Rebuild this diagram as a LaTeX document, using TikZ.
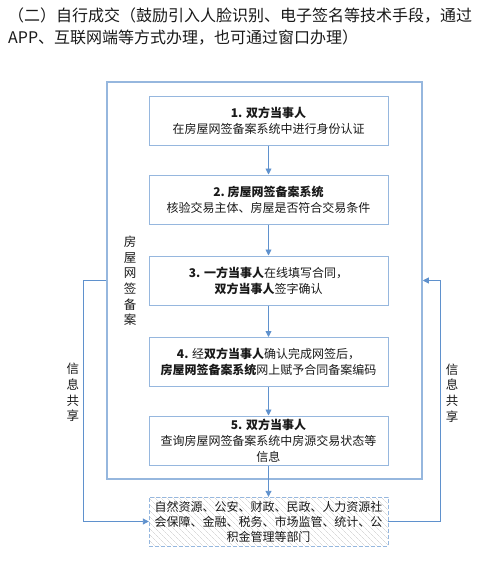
\documentclass[tikz,border=0pt]{standalone}
\usepackage{fontspec}
\setmainfont{Noto Sans CJK SC}
\usetikzlibrary{arrows.meta,patterns.meta}
\definecolor{boxblue}{RGB}{150,183,222}
\definecolor{arrblue}{RGB}{95,145,205}
\definecolor{txt}{RGB}{25,25,25}
\begin{document}
\begin{tikzpicture}[x=1pt,y=-1pt,
  stepbox/.style={draw=boxblue, line width=1pt, minimum width=239pt, minimum height=49pt, align=center, inner sep=0pt, font=\fontsize{12}{16}\selectfont, text=txt},
  arr/.style={draw=arrblue, line width=0.9pt, -{Triangle[length=6pt,width=6pt]}},
  vlab/.style={align=center, inner sep=0pt, font=\fontsize{12.5}{15.6}\selectfont, text=txt},
  titletext/.style={anchor=base west, inner sep=0pt, font=\fontsize{16}{22}\selectfont, text=txt}]
\useasboundingbox (0,0) rectangle (482,566);
\node[titletext] (t1) at (8,21) {（二）自行成交（鼓励引入人脸识别、电子签名等技术手段，通过};
\node[titletext] (t2) at (8,43) {APP、互联网端等方式办理，也可通过窗口办理）};
\node[draw=boxblue, line width=1.5pt, minimum width=315pt, minimum height=397pt, inner sep=0pt] (frame) at (264.5,280.5) {};
\node[stepbox] (s1) at (268.5,120.5) {{\bfseries 1. 双方当事人}\\在房屋网签备案系统中进行身份认证};
\node[stepbox] (s2) at (268.5,199.5) {{\bfseries 2.\ 房屋网签备案系统}\\核验交易主体、房屋是否符合交易条件};
\node[stepbox] (s3) at (268.5,280.5) {{\bfseries 3. 一方当事人}在线填写合同，\\{\bfseries 双方当事人}签字确认};
\node[stepbox] (s4) at (268.5,362) {{\bfseries 4.} 经{\bfseries 双方当事人}确认完成网签后，\\{\bfseries 房屋网签备案系统}网上赋予合同备案编码};
\node[stepbox] (s5) at (268.5,440.5) {{\bfseries 5. 双方当事人}\\查询房屋网签备案系统中房源交易状态等\\信息};
\node[stepbox, dash pattern=on 4pt off 2pt, pattern={Lines[angle=-45,distance=4pt,line width=0.4pt]}, pattern color=gray!45, font=\fontsize{12}{15}\selectfont] (dept) at (268.5,521.5) {自然资源、公安、财政、民政、人力资源社\\会保障、金融、税务、市场监管、统计、公\\积金管理等部门};
\node[vlab] (sys) at (130,281) {房\\屋\\网\\签\\备\\案};
\node[vlab] (infoL) at (73,392.5) {信\\息\\共\\享};
\node[vlab] (infoR) at (452,393) {信\\息\\共\\享};
\draw[arr] (s1) -- (s2);
\draw[arr] (s2) -- (s3);
\draw[arr] (s3) -- (s4);
\draw[arr] (s4) -- (s5);
\draw[arr] (s5) -- (dept);
\draw[arr] (frame.west) -- ++(-23,0) |- (dept.west);
\draw[arr] (dept.east) -- ++(52,0) |- (frame.east);
\end{tikzpicture}
\end{document}
